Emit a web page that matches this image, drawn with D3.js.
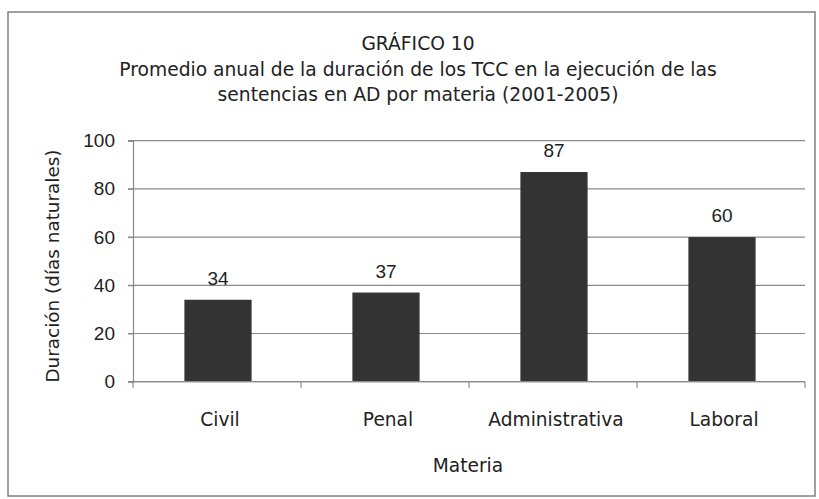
<!DOCTYPE html>
<html><head><meta charset="utf-8">
<script src="https://cdn.jsdelivr.net/npm/d3@7"></script>
<style>body{margin:0;background:#fff}svg{display:block}</style>
</head><body>
<svg id="c" width="819" height="499"></svg>
<script>
const categories = ["Civil", "Penal", "Administrativa", "Laboral"];
const values = [34, 37, 87, 60];
const yTicks = [0, 20, 40, 60, 80, 100];
const titleLines = ["GRÁFICO 10", "Promedio anual de la duración de los TCC en la ejecución de las", "sentencias en AD por materia (2001-2005)"];
const xTitle = "Materia";
const yTitle = "Duración (días naturales)";

const svg = d3.select("#c");
const font = "'DejaVu Sans', sans-serif";
const numFont = "'Liberation Sans', Arial, sans-serif";
const m = {left: 133, right: 805, top: 140.7, bottom: 381.7};

svg.append("rect").attr("x", 8).attr("y", 12).attr("width", 807).attr("height", 484)
  .attr("fill", "#fff").attr("stroke", "#808080").attr("stroke-width", 1.5);

const x = d3.scaleBand().domain(categories).range([m.left, m.right]).padding(0);
const y = d3.scaleLinear().domain([0, 100]).range([m.bottom, m.top]);

// gridlines
svg.append("g").selectAll("line").data(yTicks).join("line")
  .attr("x1", m.left - 5).attr("x2", m.right)
  .attr("y1", d => y(d)).attr("y2", d => y(d))
  .attr("stroke", "#8a8a8a").attr("stroke-width", 1.2);

// y axis
const ya = svg.append("g").attr("transform", `translate(${m.left},0)`)
  .call(d3.axisLeft(y).tickValues(yTicks).tickSize(5).tickPadding(13));
ya.select(".domain").attr("stroke", "#8a8a8a").attr("stroke-width", 1.2);
ya.selectAll(".tick line").attr("stroke", "#8a8a8a");
ya.selectAll("text").attr("font-family", numFont).attr("font-size", 19).attr("fill", "#222");

// bars
const bw = x.bandwidth() * 0.4;
svg.append("g").selectAll("rect").data(values).join("rect")
  .attr("x", (d, i) => x(categories[i]) + x.bandwidth() / 2 - bw / 2 + 1)
  .attr("width", bw)
  .attr("y", d => y(d)).attr("height", d => y(0) - y(d))
  .attr("fill", "#333333");

// value labels
svg.append("g").selectAll("text").data(values).join("text")
  .attr("x", (d, i) => x(categories[i]) + x.bandwidth() / 2 + 1)
  .attr("y", d => y(d) - 15)
  .attr("text-anchor", "middle").attr("font-family", numFont).attr("font-size", 19).attr("fill", "#222")
  .text(d => d);

// x axis
const xa = svg.append("g").attr("transform", `translate(0,${m.bottom})`)
  .call(d3.axisBottom(x).tickSize(0).tickPadding(31));
xa.select(".domain").remove();
xa.selectAll("text").attr("font-family", font).attr("font-size", 18.6).attr("fill", "#222")
  .attr("dx", 3);
svg.append("line").attr("x1", m.left).attr("x2", m.right).attr("y1", m.bottom).attr("y2", m.bottom)
  .attr("stroke", "#8a8a8a").attr("stroke-width", 1.2);
const bounds = [m.left].concat(categories.map(c => x(c) + x.bandwidth()));
svg.append("g").selectAll("line").data(bounds).join("line")
  .attr("x1", d => d).attr("x2", d => d).attr("y1", m.bottom).attr("y2", m.bottom + 6)
  .attr("stroke", "#8a8a8a").attr("stroke-width", 1.2);

// titles
const tcx = 418;
svg.append("g").selectAll("text").data(titleLines).join("text")
  .attr("x", tcx).attr("y", (d, i) => [50, 76, 101][i])
  .attr("text-anchor", "middle").attr("font-family", font).attr("font-size", 18.7).attr("fill", "#222")
  .text(d => d);

svg.append("text").attr("x", 468).attr("y", 472).attr("text-anchor", "middle")
  .attr("font-family", font).attr("font-size", 18.6).attr("fill", "#222").text(xTitle);

svg.append("text").attr("transform", `translate(59,266) rotate(-90)`).attr("text-anchor", "middle")
  .attr("font-family", font).attr("font-size", 18.4).attr("fill", "#222").text(yTitle);
</script>
</body></html>
